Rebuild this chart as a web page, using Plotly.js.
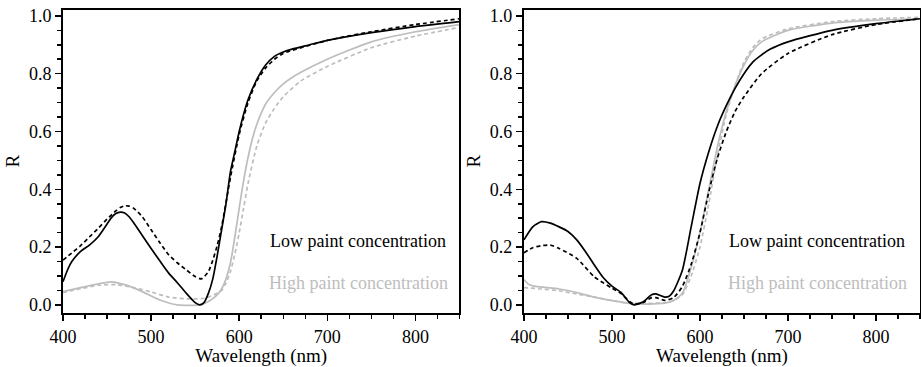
<!DOCTYPE html>
<html>
<head>
<meta charset="utf-8">
<script src="https://cdn.plot.ly/plotly-3.0.1.min.js"></script>
<style>html,body{margin:0;padding:0;background:#fff;}</style>
</head>
<body>
<div id="chart" style="width:921px;height:367px;"></div>
<script>
// ---- Left panel data ----
const leftBlackSolidX = [400,405,410,420,430,440,450,455,460,465,470,475,480,490,500,510,520,530,540,550,555,560,565,570,575,580,585,590,595,600,605,610,620,630,640,650,660,680,700,750,800,850];
const leftBlackSolidY = [0.08,0.12,0.15,0.185,0.207,0.236,0.28,0.302,0.316,0.321,0.318,0.305,0.285,0.24,0.195,0.152,0.11,0.076,0.04,0.008,0.0,0.008,0.04,0.09,0.17,0.26,0.35,0.46,0.53,0.6,0.66,0.71,0.78,0.83,0.86,0.875,0.885,0.9,0.915,0.942,0.963,0.98];
const leftBlackDashX = [400,410,420,430,440,450,460,465,470,475,480,490,500,510,520,530,540,550,557,565,570,575,580,590,600,610,620,630,640,650,700,750,800,850];
const leftBlackDashY = [0.155,0.18,0.205,0.235,0.265,0.297,0.325,0.337,0.343,0.342,0.335,0.305,0.26,0.215,0.173,0.145,0.121,0.098,0.09,0.115,0.155,0.205,0.27,0.44,0.59,0.7,0.775,0.82,0.85,0.87,0.915,0.945,0.97,0.99];
const leftGraySolidX = [400,420,440,455,470,490,510,530,555,565,575,580,585,590,595,600,605,610,615,620,630,640,650,660,670,700,750,800,850];
const leftGraySolidY = [0.046,0.06,0.073,0.08,0.07,0.046,0.017,0.0,0.0,0.012,0.035,0.055,0.09,0.145,0.235,0.335,0.43,0.51,0.575,0.625,0.695,0.735,0.765,0.787,0.805,0.85,0.91,0.945,0.97];
const leftGrayDashX = [400,420,440,460,480,500,520,540,560,570,580,585,590,595,600,605,610,620,630,640,650,670,700,750,800,850];
const leftGrayDashY = [0.043,0.056,0.068,0.07,0.06,0.045,0.027,0.021,0.023,0.033,0.05,0.075,0.115,0.175,0.25,0.335,0.42,0.55,0.63,0.68,0.72,0.775,0.825,0.89,0.93,0.96];

// ---- Right panel data ----
const rightBlackSolidX = [400,410,420,430,440,450,460,470,480,490,500,510,520,525,535,545,550,560,565,570,580,590,600,610,620,630,640,650,660,670,680,700,750,800,850];
const rightBlackSolidY = [0.225,0.27,0.288,0.283,0.27,0.254,0.225,0.184,0.138,0.095,0.065,0.044,0.008,0.0,0.01,0.035,0.038,0.027,0.03,0.048,0.12,0.27,0.42,0.53,0.62,0.69,0.75,0.8,0.84,0.865,0.885,0.91,0.95,0.973,0.99];
const rightBlackDashX = [400,410,420,430,440,460,480,500,510,520,525,535,545,550,560,570,580,590,600,610,620,630,640,650,670,700,750,800,850];
const rightBlackDashY = [0.18,0.198,0.205,0.207,0.195,0.161,0.097,0.058,0.04,0.012,0.003,0.008,0.025,0.025,0.016,0.025,0.064,0.14,0.25,0.39,0.51,0.6,0.67,0.72,0.8,0.87,0.935,0.97,0.99];
const rightGraySolidX = [400,405,410,440,460,480,500,520,540,560,570,580,590,600,610,620,630,640,650,660,670,700,750,800,850];
const rightGraySolidY = [0.088,0.072,0.066,0.055,0.043,0.027,0.015,0.005,0.003,0.006,0.015,0.04,0.13,0.25,0.4,0.55,0.67,0.76,0.83,0.88,0.91,0.95,0.975,0.985,0.99];
const rightGrayDashX = [400,420,440,460,480,500,520,540,560,570,580,590,600,610,620,630,640,650,660,670,700,750,800,850];
const rightGrayDashY = [0.06,0.055,0.049,0.038,0.027,0.015,0.006,0.005,0.008,0.015,0.035,0.1,0.2,0.35,0.52,0.66,0.76,0.84,0.89,0.92,0.955,0.98,0.99,0.995];

const annLow = "Low paint concentration";
const annHigh = "High paint concentration";
const xTitle = "Wavelength (nm)";
const yTitle = "R";

const BLACK = "#000000";
const GRAY = "#bdbdbd";
const FONT = "Liberation Serif";

function tr(x, y, color, dash, xa, ya) {
  return {x: x, y: y, type: "scatter", mode: "lines", xaxis: xa, yaxis: ya,
    line: {color: color, width: 1.7, dash: dash, shape: "spline", smoothing: 0.6},
    showlegend: false, hoverinfo: "skip"};
}

const data = [
  tr(leftGraySolidX, leftGraySolidY, GRAY, "solid", "x", "y"),
  tr(leftGrayDashX, leftGrayDashY, GRAY, "4px,3px", "x", "y"),
  tr(leftBlackSolidX, leftBlackSolidY, BLACK, "solid", "x", "y"),
  tr(leftBlackDashX, leftBlackDashY, BLACK, "4px,3px", "x", "y"),
  tr(rightGraySolidX, rightGraySolidY, GRAY, "solid", "x2", "y2"),
  tr(rightGrayDashX, rightGrayDashY, GRAY, "4px,3px", "x2", "y2"),
  tr(rightBlackSolidX, rightBlackSolidY, BLACK, "solid", "x2", "y2"),
  tr(rightBlackDashX, rightBlackDashY, BLACK, "4px,3px", "x2", "y2")
];

function xax(domain, anchor) {
  return {domain: domain, anchor: anchor, range: [400, 850], tick0: 400, dtick: 100,
    ticks: "outside", ticklen: 6, tickwidth: 1.5, tickcolor: "#000",
    minor: {dtick: 25, tick0: 400, ticks: "outside", ticklen: 4, tickwidth: 1.5, tickcolor: "#000"},
    showline: true, linecolor: "#000", linewidth: 2, mirror: true,
    showgrid: false, zeroline: false,
    tickfont: {family: FONT, size: 18, color: "#000"},
    title: {text: xTitle, font: {family: FONT, size: 19, color: "#000"}, standoff: 3}};
}
function yax(anchor) {
  return {domain: [0.1471, 0.9741], anchor: anchor, range: [-0.028, 1.022], tick0: 0, dtick: 0.2,
    tickformat: ".1f",
    ticks: "outside", ticklen: 6, tickwidth: 1.5, tickcolor: "#000",
    minor: {dtick: 0.05, tick0: 0, ticks: "outside", ticklen: 4, tickwidth: 1.5, tickcolor: "#000"},
    showline: true, linecolor: "#000", linewidth: 2, mirror: true,
    showgrid: false, zeroline: false,
    tickfont: {family: FONT, size: 18, color: "#000"},
    title: {text: yTitle, font: {family: FONT, size: 19, color: "#000"}, standoff: 4}};
}

const layout = {
  width: 921, height: 367,
  margin: {l: 0, r: 0, t: 0, b: 0},
  paper_bgcolor: "#fff", plot_bgcolor: "#fff",
  font: {family: FONT, color: "#000"},
  xaxis: xax([0.0684, 0.4989], "y"),
  yaxis: yax("x"),
  xaxis2: xax([0.5689, 0.9989], "y2"),
  yaxis2: yax("x2"),
  annotations: [
    {xref: "paper", yref: "paper", x: 448/921, y: (367-241)/367, xanchor: "right", yanchor: "middle", text: annLow, showarrow: false, font: {family: FONT, size: 18, color: BLACK}},
    {xref: "paper", yref: "paper", x: 450/921, y: (367-283)/367, xanchor: "right", yanchor: "middle", text: annHigh, showarrow: false, font: {family: FONT, size: 18, color: GRAY}},
    {xref: "paper", yref: "paper", x: 907/921, y: (367-241)/367, xanchor: "right", yanchor: "middle", text: annLow, showarrow: false, font: {family: FONT, size: 18, color: BLACK}},
    {xref: "paper", yref: "paper", x: 909/921, y: (367-283)/367, xanchor: "right", yanchor: "middle", text: annHigh, showarrow: false, font: {family: FONT, size: 18, color: GRAY}}
  ]
};

Plotly.newPlot("chart", data, layout, {displayModeBar: false, staticPlot: true});
</script>
</body>
</html>
